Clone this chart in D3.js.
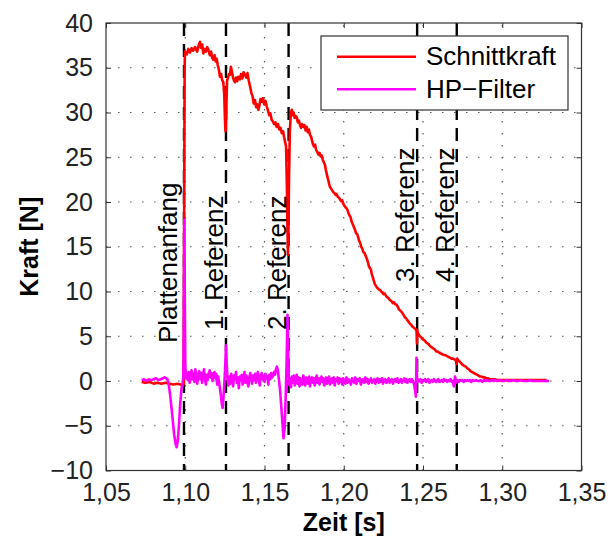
<!DOCTYPE html>
<html><head><meta charset="utf-8">
<script src="https://cdn.jsdelivr.net/npm/d3@7"></script>
<style>body{margin:0;background:#fff;} svg{display:block;font-family:"Liberation Sans",Arial,sans-serif;}</style>
</head><body>
<svg id="chart" width="609" height="539"></svg>
<script>
// ---- data ----
const xTicks = [1.05,1.10,1.15,1.20,1.25,1.30,1.35];
const yTicks = [-10,-5,0,5,10,15,20,25,30,35,40];
const seriesNames = ["Schnittkraft","HP−Filter"];
const seriesColors = ["#ff0000","#ff00ff"];

const markerTimes = [1.0992,1.1257,1.1652,1.2463,1.2713];
const markerLabels = ["Plattenanfang","1. Referenz","2. Referenz","3. Referenz","4. Referenz"];

const forceT = [1.0725,1.0750,1.0775,1.0800,1.0825,1.0850,1.0875,1.0900,1.0925,1.0950,1.0970,1.0985,1.0990,1.0993,1.0996,
1.0998,1.1010,1.1020,1.1030,1.1040,1.1050,1.1062,1.1075,1.1085,1.1093,1.1100,1.1107,1.1114,1.1122,1.1130,1.1138,1.1146,1.1155,1.1163,1.1170,1.1177,1.1185,1.1192,1.1198,1.1205,1.1212,1.1219,1.1226,1.1233,1.1240,1.1246,
1.1250,1.1254,1.1257,1.1260,1.1264,1.1270,1.1276,1.1282,1.1288,1.1294,1.1300,1.1307,1.1314,1.1321,1.1328,1.1335,1.1345,1.1352,1.1360,1.1368,1.1377,1.1385,1.1393,1.1400,1.1409,1.1417,1.1425,1.1432,1.1440,1.1447,1.1454,1.1461,1.1468,1.1475,1.1482,1.1490,1.1498,1.1506,1.1514,1.1522,1.1530,1.1537,1.1545,1.1553,1.1561,1.1569,1.1577,1.1585,1.1593,1.1601,1.1609,1.1617,1.1624,1.1630,1.1636,1.1641,
1.1645,1.1648,1.1651,1.1655,1.1660,1.1666,1.1672,1.1678,1.1684,1.1690,1.1697,1.1703,1.1710,1.1717,1.1724,1.1731,1.1738,1.1745,1.1752,1.1759,1.1766,1.1773,1.1780,1.1787,1.1794,1.1798,1.1805,1.1812,1.1819,1.1826,1.1833,1.1840,1.1847,1.1854,1.1861,1.1868,1.1875,1.1882,1.1887,1.1892,1.1897,1.1903,1.1908,1.1913,
1.1920,1.1927,1.1934,1.1941,1.1948,1.1955,1.1962,1.1969,1.1976,1.1983,1.1990,1.1997,1.2004,1.2011,1.2018,1.2024,1.2029,1.2036,1.2043,1.2050,1.2057,1.2064,1.2071,1.2078,1.2085,1.2092,1.2098,1.2103,1.2110,1.2117,1.2124,1.2131,1.2138,1.2145,1.2152,1.2159,1.2166,1.2172,1.2176,1.2183,1.2190,1.2197,1.2204,1.2211,1.2218,1.2224,1.2229,
1.2236,1.2243,1.2250,1.2257,1.2264,1.2271,1.2281,1.2288,1.2295,1.2302,1.2309,1.2316,1.2323,1.2334,1.2341,1.2348,1.2355,1.2366,1.2373,1.2380,1.2387,1.2394,1.2401,1.2410,1.2418,1.2425,1.2432,1.2439,1.2446,1.2453,1.2459,1.2462,1.2464,1.2467,
1.2472,1.2480,1.2488,1.2496,1.2504,1.2512,1.2520,1.2528,1.2536,1.2544,1.2552,1.2560,1.2568,1.2576,1.2584,1.2592,1.2600,1.2610,1.2620,1.2630,1.2640,1.2650,1.2660,1.2670,1.2680,1.2690,1.2700,1.2708,1.2712,1.2716,1.2722,1.2730,1.2740,1.2750,1.2760,1.2770,1.2780,1.2790,1.2800,1.2810,1.2820,1.2830,1.2840,1.2850,1.2860,1.2870,1.2880,1.2890,1.2900,1.2910,1.2920,1.2930,1.2940,1.2955,1.2970,1.2985,1.3000,1.3020,1.3040,1.3060,1.3080,1.3100,1.3130,1.3160,1.3190,1.3220,1.3250,1.3280,1.3318];
const forceV = [-0.1,-0.2,-0.1,-0.3,-0.2,-0.3,-0.2,-0.3,-0.4,-0.3,-0.4,-0.5,-0.3,18.0,34.5,
36.8,36.5,37.1,36.7,37.2,36.9,37.3,36.8,37.5,37.9,37.2,37.6,36.6,37.1,36.8,37.3,37.0,36.4,36.8,36.1,35.9,36.4,35.7,36.0,35.3,34.8,34.0,34.3,33.6,33.4,32.0,
29.5,27.9,28.3,31.0,33.6,33.9,34.3,34.2,35.1,34.6,34.0,33.6,33.4,33.9,33.5,34.0,33.7,34.3,33.8,34.5,34.2,33.9,34.4,33.6,32.9,32.2,31.8,31.0,31.4,30.6,30.9,30.3,30.8,31.5,31.2,31.6,30.9,31.3,30.7,30.2,29.7,29.9,29.2,29.0,28.7,28.9,28.4,28.7,28.1,28.3,27.7,27.9,27.2,26.7,26.2,22.0,
17.0,14.1,16.5,23.0,28.0,29.8,30.3,29.7,30.0,29.4,29.6,29.5,28.9,29.1,28.6,28.3,28.7,28.4,28.6,28.0,28.4,27.8,28.1,27.5,27.3,27.0,26.5,26.2,26.4,25.8,25.6,25.3,25.5,25.1,25.2,24.7,24.4,24.1,23.6,23.2,22.8,22.4,22.0,21.7,
21.5,21.3,21.1,21.0,20.8,20.9,20.6,20.5,20.3,20.1,20.2,19.8,19.6,19.4,19.3,19.1,18.8,18.5,18.3,17.8,17.5,17.2,16.9,16.5,16.4,16.0,15.6,15.5,15.0,14.8,14.4,14.3,14.0,13.7,13.3,12.8,12.6,12.4,12.0,11.6,11.2,10.8,10.6,10.4,10.3,10.2,10.2,
10.0,9.9,9.7,9.8,9.6,9.4,9.3,9.1,9.0,8.9,8.7,8.8,8.6,8.5,8.3,8.0,7.9,7.7,7.5,7.3,7.1,7.0,6.8,6.6,6.4,6.3,6.1,6.0,5.9,5.8,5.6,4.2,5.7,5.4,
5.2,5.0,4.9,4.7,4.6,4.5,4.3,4.2,4.1,3.9,3.8,3.7,3.6,3.5,3.3,3.3,3.2,3.1,3.0,2.9,2.9,2.8,2.7,2.6,2.5,2.5,2.4,2.3,1.9,2.5,2.3,2.2,2.0,1.8,1.7,1.6,1.4,1.3,1.1,1.0,0.9,0.8,0.7,0.6,0.5,0.5,0.4,0.4,0.3,0.3,0.2,0.2,0.2,0.2,0.1,0.1,0.1,0.1,0.1,0.1,0.1,0.1,0.1,0.1,0.1,0.1,0.1,0.1];

const hpT = [1.0725,1.0740,1.0755,1.0770,1.0785,1.0800,1.0815,1.0830,1.0845,1.0860,1.0870,1.0880,1.0888,1.0895,1.0905,1.0918,1.0930,1.0940,1.0946,1.0952,1.0960,1.0968,1.0976,1.0983,1.0988,1.0991,1.0994,1.0997,1.1000,1.1004,
1.1010,1.1016,1.1022,1.1028,1.1034,1.1040,1.1046,1.1052,1.1058,1.1064,1.1070,1.1076,1.1082,1.1088,1.1094,1.1100,1.1106,1.1112,1.1118,1.1124,1.1130,1.1136,1.1142,1.1148,1.1154,1.1160,1.1166,1.1172,1.1178,1.1184,1.1190,1.1196,1.1202,1.1208,1.1214,1.1220,1.1226,1.1231,1.1236,1.1242,1.1248,1.1253,1.1257,1.1261,1.1266,
1.1272,1.1278,1.1284,1.1290,1.1296,1.1302,1.1308,1.1314,1.1320,1.1326,1.1332,1.1338,1.1344,1.1350,1.1356,1.1362,1.1368,1.1374,1.1380,1.1386,1.1392,1.1398,1.1404,1.1410,1.1416,1.1422,1.1428,1.1434,1.1440,1.1446,1.1452,1.1458,1.1464,1.1470,1.1476,1.1482,1.1488,1.1494,1.1500,1.1506,1.1512,1.1518,1.1524,1.1530,1.1536,1.1542,1.1548,1.1554,1.1560,1.1566,1.1572,1.1578,1.1584,1.1590,1.1597,1.1604,1.1612,1.1620,1.1628,1.1634,1.1640,1.1645,1.1649,1.1652,1.1656,1.1661,1.1667,
1.1673,1.1679,1.1685,1.1691,1.1697,1.1703,1.1709,1.1715,1.1721,1.1727,1.1733,1.1739,1.1745,1.1751,1.1757,1.1763,1.1769,1.1775,1.1781,1.1787,1.1793,1.1799,1.1805,1.1811,1.1817,1.1823,1.1829,1.1835,1.1841,1.1847,1.1853,1.1859,1.1865,1.1871,1.1877,1.1883,1.1889,1.1895,1.1901,1.1907,1.1913,1.1919,1.1925,1.1931,1.1937,1.1943,1.1949,1.1955,1.1961,1.1967,1.1973,1.1979,1.1985,1.1991,1.1997,
1.2003,1.2010,1.2017,1.2024,1.2031,1.2038,1.2045,1.2052,1.2059,1.2066,1.2073,1.2080,1.2087,1.2094,1.2101,1.2108,1.2115,1.2122,1.2129,1.2136,1.2143,1.2150,1.2157,1.2164,1.2171,1.2178,1.2185,1.2192,1.2199,1.2206,1.2213,1.2220,1.2227,1.2234,1.2241,1.2248,1.2255,1.2262,1.2269,1.2276,1.2283,1.2290,1.2297,1.2304,1.2311,1.2318,1.2325,1.2332,1.2339,1.2346,1.2353,1.2360,1.2367,1.2374,1.2381,1.2388,1.2395,1.2402,1.2409,1.2416,1.2423,1.2430,1.2437,1.2444,1.2450,1.2455,1.2459,1.2462,1.2464,1.2467,1.2471,
1.2478,1.2485,1.2492,1.2499,1.2506,1.2513,1.2520,1.2527,1.2534,1.2541,1.2548,1.2555,1.2562,1.2569,1.2576,1.2583,1.2590,1.2597,1.2604,1.2611,1.2618,1.2625,1.2632,1.2639,1.2646,1.2653,1.2660,1.2667,1.2674,1.2681,1.2688,1.2695,1.2702,1.2708,1.2711,1.2714,1.2718,1.2725,1.2733,1.2741,1.2749,1.2757,1.2765,1.2773,1.2781,1.2789,1.2797,1.2805,1.2815,1.2825,1.2835,1.2845,1.2855,1.2865,1.2875,1.2885,1.2895,1.2905,1.2915,1.2925,1.2935,1.2945,1.2955,1.2965,1.2975,1.2985,1.2995,1.3010,1.3025,1.3040,1.3055,1.3070,1.3085,1.3100,1.3115,1.3130,1.3145,1.3160,1.3175,1.3190,1.3205,1.3220,1.3235,1.3250,1.3265,1.3280,1.3295,1.3310,1.3318];
const hpV = [0.1,0.2,0.0,0.2,0.1,0.2,0.3,0.1,0.2,0.3,0.4,0.3,0.2,-0.3,-1.6,-3.8,-6.0,-7.1,-7.4,-6.8,-5.0,-2.6,-0.9,-0.3,0.5,6.0,18.0,10.0,2.0,0.3,
0.9,0.1,1.0,-0.2,0.7,1.2,0.2,0.9,-0.1,1.3,0.4,-0.3,0.8,1.1,0.2,0.9,-0.2,0.6,1.3,0.3,-0.4,0.7,0.1,0.8,1.2,0.4,0.9,0.0,0.6,1.0,0.3,0.8,-0.4,0.5,-0.2,-1.0,-1.8,-2.6,-3.0,-1.6,0.2,2.0,4.0,2.2,0.3,
-0.5,0.5,-0.3,0.8,0.1,-0.6,0.6,0.2,1.0,-0.2,0.4,-0.8,0.5,0.1,0.7,-0.4,0.3,1.0,-0.2,0.6,0.0,-0.6,0.4,0.9,0.2,-0.3,0.6,0.1,0.8,-0.2,0.5,1.0,0.3,-0.5,0.4,0.9,0.2,0.6,-0.1,0.8,0.3,0.5,-0.4,0.7,0.2,0.9,0.4,0.6,1.0,0.7,1.3,1.6,1.2,0.3,-0.8,-2.4,-4.4,-6.4,-5.0,-1.5,2.5,7.4,4.0,1.0,-0.4,
0.3,-0.7,0.5,-0.2,0.6,-0.5,0.2,0.7,-0.3,0.4,-0.6,0.3,0.1,-0.4,0.6,0.0,-0.5,0.4,0.2,-0.3,0.5,-0.6,0.2,0.4,-0.2,0.3,-0.5,0.1,0.6,-0.2,0.3,-0.4,0.2,0.5,-0.1,0.3,-0.5,0.0,0.4,-0.3,0.2,0.5,-0.4,0.1,0.3,-0.2,0.4,-0.5,0.2,0.0,0.4,-0.3,0.3,-0.1,0.2,
-0.4,0.3,0.1,-0.3,0.4,-0.2,0.2,0.0,-0.4,0.3,0.1,-0.2,0.4,-0.3,0.2,0.0,0.3,-0.4,0.1,0.2,-0.2,0.4,-0.1,0.2,-0.3,0.1,0.3,-0.2,0.0,0.2,-0.3,0.1,0.3,-0.2,0.2,-0.1,0.3,-0.3,0.1,0.2,-0.2,0.0,0.3,-0.2,0.1,0.2,-0.3,0.1,0.2,-0.1,0.3,-0.2,0.0,0.2,-0.2,0.1,0.3,-0.1,0.2,-0.2,0.1,0.2,-0.1,0.2,0.0,-0.4,-1.0,-1.75,2.6,0.5,-0.1,
0.2,-0.1,0.1,0.2,-0.2,0.1,0.0,0.2,-0.1,0.1,0.2,-0.2,0.0,0.1,-0.1,0.2,0.0,-0.1,0.1,0.2,-0.1,0.0,0.1,-0.1,0.2,0.0,0.1,-0.1,0.1,0.0,0.2,-0.1,0.0,-0.6,0.5,-0.2,0.1,0.0,0.1,-0.1,0.1,0.0,0.1,-0.1,0.1,0.0,0.1,0.0,0.1,-0.1,0.1,0.0,0.1,0.0,0.0,0.1,-0.1,0.1,0.0,0.1,0.0,0.0,0.1,0.0,0.1,0.0,0.0,0.1,0.0,0.0,0.1,0.0,0.0,0.1,0.0,0.0,0.1,0.0,0.0,0.0,0.1,0.0,0.0,0.0,0.0,0.0,0.0,0.0,0.0];

// ---- layout ----
const svg = d3.select("#chart");
const L = 106, R = 581.5, T = 23, B = 470.5;
const x = d3.scaleLinear().domain([1.05,1.35]).range([L,R]);
const y = d3.scaleLinear().domain([-10,40]).range([B,T]);
const fmtX = v => d3.format(".2f")(v).replace(".", ",");
const fmtY = d3.format("d");
const axisColor = "#333";
const tickFont = 25;

// grid
const grid = svg.append("g").attr("stroke","#555").attr("stroke-width",1.2).attr("stroke-dasharray","1.5,10.5");
xTicks.slice(1,-1).forEach(t => grid.append("line").attr("x1",x(t)).attr("x2",x(t)).attr("y1",B).attr("y2",T));
yTicks.slice(1,-1).forEach(t => grid.append("line").attr("x1",L).attr("x2",R).attr("y1",y(t)).attr("y2",y(t)));

// marker dashed lines
const mk = svg.append("g");
markerTimes.forEach(t => mk.append("line").attr("x1",x(t)).attr("x2",x(t)).attr("y1",T).attr("y2",B)
  .attr("stroke","#000").attr("stroke-width",2.4).attr("stroke-dasharray","13,8"));

// series
const line = d3.line().x(d=>x(d[0])).y(d=>y(d[1]));
const forceData = forceT.map((t,i)=>[t,forceV[i]]);
const hpData = hpT.map((t,i)=>[t,hpV[i]]);
svg.append("path").datum(forceData).attr("d",line).attr("fill","none").attr("stroke",seriesColors[0]).attr("stroke-width",2.6).attr("stroke-linejoin","round");
svg.append("path").datum(hpData).attr("d",line).attr("fill","none").attr("stroke",seriesColors[1]).attr("stroke-width",2.6).attr("stroke-linejoin","round");

// marker labels
const labelStart = [343,330,330,282,282];
markerLabels.forEach((s,i) => {
  const bx = i===0 ? x(markerTimes[i]) - 7 : x(markerTimes[i]) - 3;
  svg.append("text").attr("transform",`translate(${bx},${labelStart[i]}) rotate(-90)`)
    .attr("font-size",26).attr("fill","#000").text(s);
});

// axes
const ax = svg.append("g");
const xb = ax.append("g").attr("transform",`translate(0,${B})`).call(d3.axisBottom(x).tickValues(xTicks).tickFormat(fmtX).tickSizeInner(-5).tickSizeOuter(0).tickPadding(13));
const xt = ax.append("g").attr("transform",`translate(0,${T})`).call(d3.axisTop(x).tickValues(xTicks).tickFormat("").tickSizeInner(-5).tickSizeOuter(0));
const yl = ax.append("g").attr("transform",`translate(${L},0)`).call(d3.axisLeft(y).tickValues(yTicks).tickFormat(fmtY).tickSizeInner(-5).tickSizeOuter(0).tickPadding(13));
const yr = ax.append("g").attr("transform",`translate(${R},0)`).call(d3.axisRight(y).tickValues(yTicks).tickFormat("").tickSizeInner(-5).tickSizeOuter(0));
[xb,xt,yl,yr].forEach(g => {
  g.select(".domain").remove();
  g.selectAll("line").attr("stroke",axisColor);
  g.selectAll("text").attr("font-size",tickFont).attr("font-family","Liberation Sans, Arial, sans-serif").attr("fill","#222");
});
svg.append("rect").attr("x",L).attr("y",T).attr("width",R-L).attr("height",B-T).attr("fill","none").attr("stroke",axisColor).attr("stroke-width",1.2);

// axis labels
svg.append("text").attr("x",(L+R)/2).attr("y",531).attr("text-anchor","middle").attr("font-size",25).attr("font-weight","bold").text("Zeit [s]");
svg.append("text").attr("transform",`translate(38,${(T+B)/2}) rotate(-90)`).attr("text-anchor","middle").attr("font-size",25).attr("font-weight","bold").text("Kraft [N]");

// legend
const lg = svg.append("g");
lg.append("rect").attr("x",321).attr("y",36).attr("width",247).attr("height",74).attr("fill","#fff").attr("stroke",axisColor).attr("stroke-width",1.2);
seriesNames.forEach((s,i) => {
  const ly = 56.7 + i*32.6;
  lg.append("line").attr("x1",337).attr("x2",416).attr("y1",ly).attr("y2",ly).attr("stroke",seriesColors[i]).attr("stroke-width",2.6);
  lg.append("text").attr("x",426).attr("y",ly+8.5).attr("font-size",26).attr("fill","#000").text(s);
});
</script>
</body></html>
